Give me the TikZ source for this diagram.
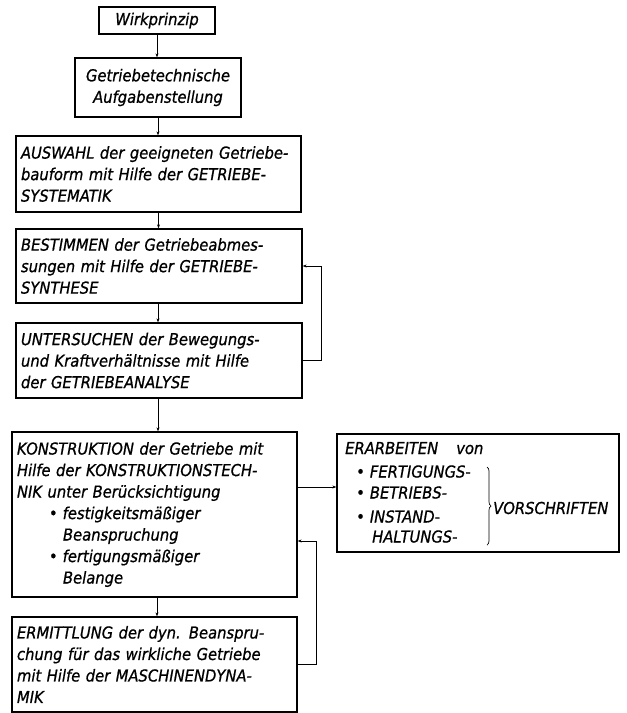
\documentclass[tikz,border=0pt]{standalone}
\usepackage{fontspec}
\setmainfont{DejaVu Sans Condensed}[ItalicFont={DejaVu Sans Condensed Oblique},ItalicFeatures={FakeBold=0.8}]
\usetikzlibrary{arrows.meta,decorations.pathreplacing}
\begin{document}
\begin{tikzpicture}[x=1pt,y=-1pt,
  txt/.style={font=\fontsize{16.4}{21.5}\selectfont\itshape},
  box/.style={draw, line width=1.3pt, inner xsep=5pt, inner ysep=0pt, txt},
  lbox/.style={box, align=left},
  conn/.style={line width=0.8pt, -{Stealth[length=4pt,width=3pt]}}]
\useasboundingbox (0,0) rectangle (627,713);
\fill[white] (0,0) rectangle (627,713);

\node[box, align=center, minimum width=116pt, minimum height=27pt] (b1) at (157,20.5) {Wirkprinzip};
\node[box, align=center, minimum width=166pt, minimum height=59pt] (b2) at (158,87.5)
  {Getriebetechnische\\Aufgabenstellung};
\node[lbox, minimum width=285pt, minimum height=76pt, text width=275pt] (b3) at (158.5,174)
  {AUSWAHL der geeigneten Getriebe-\\bauform mit Hilfe der GETRIEBE-\\SYSTEMATIK};
\node[lbox, minimum width=286pt, minimum height=74pt, text width=276pt] (b4) at (159,266)
  {BESTIMMEN der Getriebeabmes-\\sungen mit Hilfe der GETRIEBE-\\SYNTHESE};
\node[lbox, minimum width=286pt, minimum height=75pt, text width=276pt] (b5) at (159,360.5)
  {UNTERSUCHEN der Bewegungs-\\und Kraftverhältnisse mit Hilfe\\der GETRIEBEANALYSE};
\node[lbox, minimum width=285pt, minimum height=165pt, text width=275pt] (b6) at (154.5,514.5)
  {KONSTRUKTION der Getriebe mit\\Hilfe der KONSTRUKTIONSTECH-\\NIK unter Berücksichtigung\\
   \hspace*{32pt}•\hspace{5pt}festigkeitsmäßiger\\
   \hspace*{46pt}Beanspruchung\\
   \hspace*{32pt}•\hspace{5pt}fertigungsmäßiger\\
   \hspace*{46pt}Belange};
\node[lbox, minimum width=285pt, minimum height=95pt, text width=275pt] (b7) at (154.5,664.5)
  {ERMITTLUNG der dyn. Beanspru-\\chung für das wirkliche Getriebe\\mit Hilfe der MASCHINENDYNA-\\MIK};
\node[box, minimum width=282pt, minimum height=118pt] (r) at (478,493) {};

\node[txt, anchor=base west, inner sep=0pt] (er) at (345,454) {ERARBEITEN\hspace{1.1em}von};
\node[txt, anchor=base west, inner sep=0pt] (i1) at (356,477.5) {•\hspace{5pt}FERTIGUNGS-};
\node[txt, anchor=base west, inner sep=0pt] (i2) at (356,498.5) {•\hspace{5pt}BETRIEBS-};
\node[txt, anchor=base west, inner sep=0pt] (i3) at (356,522.5) {•\hspace{5pt}INSTAND-};
\node[txt, anchor=base west, inner sep=0pt] (i4) at (372,542.5) {HALTUNGS-};
\draw[line width=0.7pt, decorate, decoration={brace, amplitude=4pt}] (487,467) -- (487,545);
\node[txt, anchor=west, inner sep=0pt] (vs) at (493,508) {VORSCHRIFTEN};

\draw[conn] (b1.south) -- (b1.south |- b2.north);
\draw[conn] (b2.south) -- (b2.south |- b3.north);
\draw[conn] (b3.south) -- (b3.south |- b4.north);
\draw[conn] (b4.south -| b2.south) -- (b2.south |- b5.north);
\draw[conn] (b5.south -| b2.south) -- (b2.south |- b6.north);
\coordinate (d6) at ([xshift=2.5pt]b6.south);
\draw[conn] (d6) -- (d6 |- b7.north);
\draw[conn] (b5.east) -- ++(19,0) |- (b4.east);
\coordinate (f6) at ([yshift=-26.5pt]b6.east);
\draw[conn] (b7.east) -- ++(19,0) |- (f6);
\coordinate (o6) at ([yshift=27.5pt]b6.east);
\draw[conn] (o6) -- (o6 -| r.west);
\end{tikzpicture}
\end{document}
